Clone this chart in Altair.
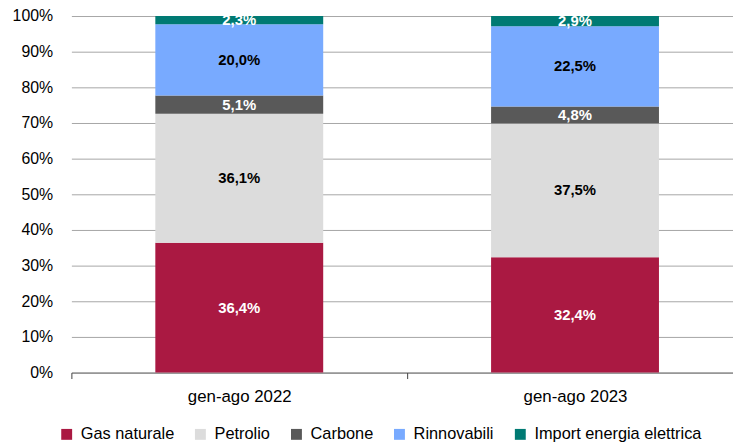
import altair as alt
import pandas as pd

years = ["gen-ago 2022", "gen-ago 2023"]
sources = ["Gas naturale", "Petrolio", "Carbone", "Rinnovabili", "Import energia elettrica"]
v2022 = [36.4, 36.1, 5.1, 20.0, 2.3]
v2023 = [32.4, 37.5, 4.8, 22.5, 2.9]
colors = ["#AA1942", "#DCDCDC", "#595959", "#78AAFF", "#007A73"]
ytick_values = [0, 0.1, 0.2, 0.3, 0.4, 0.5, 0.6, 0.7, 0.8, 0.9, 1.0]

rows = []
for p, (yr, vals) in enumerate(zip(years, [v2022, v2023])):
    for i, (s, v) in enumerate(zip(sources, vals)):
        rows.append({"year": yr, "pos": p, "source": s, "value": v, "idx": i,
                     "label": f"{v:.1f}%".replace(".", ",")})
df = pd.DataFrame(rows)

FONT = "Liberation Sans"
W = 668          # visible plot width (category area continues past the right edge)
STEP = 339       # width of one category slot in pixels

base = alt.Chart(df).transform_stack(
    stack="value", groupby=["year"], as_=["y0", "y1"],
    sort=[alt.SortField("idx", order="ascending")], offset="normalize"
).transform_calculate(mid="(datum.y0 + datum.y1) / 2")

xscale = alt.Scale(domain=[-0.5, W / STEP - 0.5], nice=False, zero=False, padding=0)
yscale = alt.Scale(domain=[0, 1], nice=False, padding=0)

label_expr = "[" + ",".join(f"'{y}'" for y in years) + "][datum.value]"
xaxis_labels = alt.Axis(title=None, orient="bottom", values=[0, 1], labelExpr=label_expr,
                        labelAngle=0, ticks=False, grid=False, domain=True,
                        domainColor="#707070", labelFontSize=17, labelFont=FONT,
                        labelColor="#000000", labelPadding=16)
xaxis_ticks = alt.Axis(title=None, orient="bottom", values=[-0.5, 0.5], labels=False,
                       ticks=True, tickSize=6, tickColor="#404040", grid=False,
                       domain=False)
yaxis = alt.Axis(title=None, format=".0%", values=ytick_values,
                 domain=False, ticks=False, labelPadding=19, grid=True,
                 gridColor="#A6A6A6", gridWidth=1, labelFontSize=16,
                 labelFont=FONT, labelColor="#000000", labelOverlap=False)

bars = base.mark_bar(size=STEP / 2).encode(
    x=alt.X("pos:Q", scale=xscale, axis=xaxis_labels),
    y=alt.Y("y0:Q", scale=yscale, axis=yaxis),
    y2="y1:Q",
    color=alt.Color("source:N", sort=sources,
                    scale=alt.Scale(domain=sources, range=colors),
                    legend=alt.Legend(title=None, orient="none", direction="horizontal",
                                      legendX=-13, legendY=414, symbolType="square",
                                      symbolSize=121, symbolStrokeWidth=0,
                                      labelFontSize=16.5, labelFont=FONT,
                                      labelColor="#000000", labelOffset=6,
                                      labelLimit=400,
                                      columnPadding=18, padding=0,
                                      columns=5)),
)

texts = base.mark_text(font=FONT, fontSize=15, fontWeight="bold", baseline="middle").encode(
    x=alt.X("pos:Q", scale=xscale, axis=xaxis_ticks),
    y=alt.Y("mid:Q", scale=yscale, axis=yaxis),
    text="label:N",
    color=alt.condition(alt.FieldOneOfPredicate(field="source", oneOf=["Petrolio", "Rinnovabili"]),
                        alt.value("#000000"), alt.value("#FFFFFF")),
)

chart = alt.layer(bars, texts).resolve_axis(x="independent").properties(
    width=W, height=360,
    autosize="none",
    padding={"left": 64, "top": 6, "right": 0, "bottom": 71},
).configure_view(stroke=None)

chart.save("out.html", embed_options={"renderer": "svg", "actions": False})
